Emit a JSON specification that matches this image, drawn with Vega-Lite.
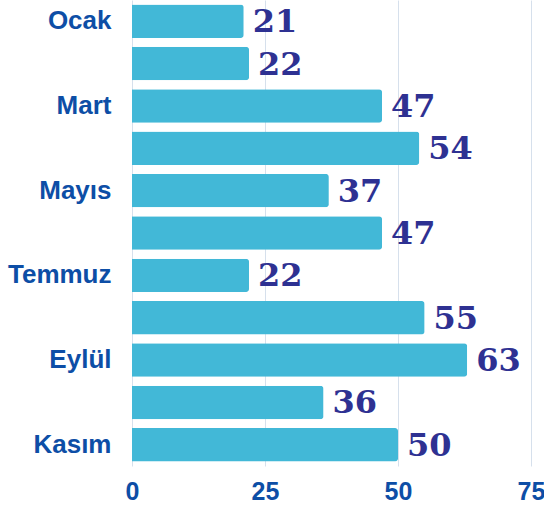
{
  "$schema": "https://vega.github.io/schema/vega-lite/v6.json",
  "width": 399,
  "height": 466,
  "autosize": {"type": "none"},
  "padding": {"left": 132, "top": 0, "right": 13, "bottom": 42},
  "background": "white",
  "config": {"view": {"stroke": null}},
  "data": {
    "values": [
      {"ay": "Ocak", "deger": 21},
      {"ay": "Şubat", "deger": 22},
      {"ay": "Mart", "deger": 47},
      {"ay": "Nisan", "deger": 54},
      {"ay": "Mayıs", "deger": 37},
      {"ay": "Haziran", "deger": 47},
      {"ay": "Temmuz", "deger": 22},
      {"ay": "Ağustos", "deger": 55},
      {"ay": "Eylül", "deger": 63},
      {"ay": "Ekim", "deger": 36},
      {"ay": "Kasım", "deger": 50}
    ]
  },
  "encoding": {
    "y": {
      "field": "ay",
      "type": "nominal",
      "sort": null,
      "scale": {"paddingInner": 0.21, "paddingOuter": 0.105},
      "axis": {
        "title": null,
        "domain": false,
        "ticks": false,
        "labelPadding": 21,
        "labelFont": "Liberation Sans",
        "labelFontWeight": "bold",
        "labelFontSize": 26,
        "labelColor": "#0d4ea6",
        "labelExpr": "indexof(['Ocak','Mart','Mayıs','Temmuz','Eylül','Kasım'], datum.value) >= 0 ? datum.value : ''"
      }
    },
    "x": {
      "field": "deger",
      "type": "quantitative",
      "scale": {"domain": [0, 75], "nice": false},
      "axis": {
        "title": null,
        "values": [0, 25, 50, 75],
        "domain": false,
        "ticks": false,
        "grid": true,
        "gridColor": "#d6e0ec",
        "gridWidth": 1,
        "labelPadding": 13,
        "labelFont": "Liberation Sans",
        "labelFontWeight": "bold",
        "labelFontSize": 25,
        "labelColor": "#0d4ea6",
        "labelFlush": false
      }
    }
  },
  "layer": [
    {
      "mark": {"type": "bar", "color": "#42b8d7", "cornerRadiusEnd": 3}
    },
    {
      "mark": {
        "type": "text",
        "align": "left",
        "baseline": "middle",
        "dx": 9,
        "dy": 1,
        "font": "DejaVu Serif",
        "fontWeight": "bold",
        "fontSize": 32,
        "color": "#2e3192"
      },
      "encoding": {"text": {"field": "deger", "type": "quantitative"}}
    }
  ]
}
